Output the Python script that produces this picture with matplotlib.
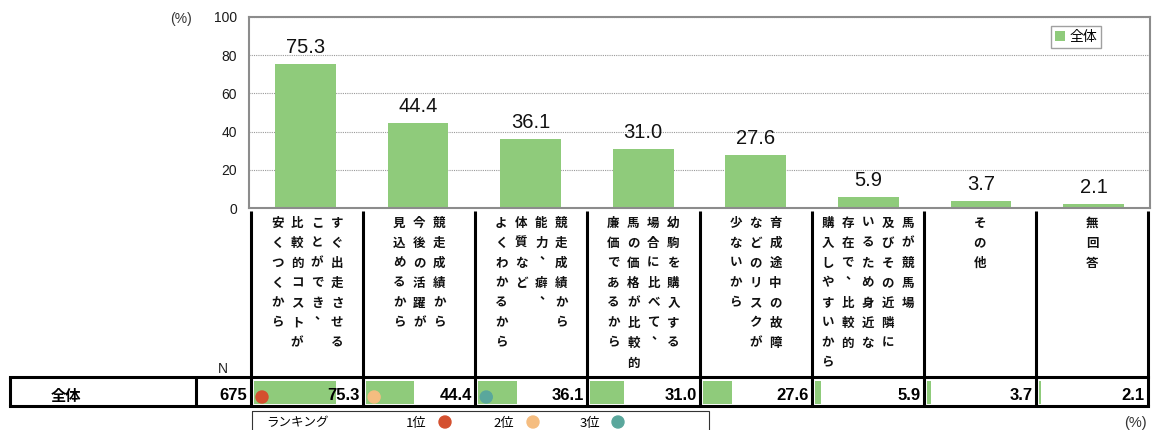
import matplotlib.pyplot as plt
import numpy as np
from matplotlib.patches import Circle, Rectangle

plt.rcParams['font.family'] = ['Liberation Sans', 'Noto Sans CJK JP', 'DejaVu Sans']

# reasons, one list per category; each string is one vertical column (read right to left)
label_columns = [
    ["すぐ出走させる", "ことができ、", "比較的コストが", "安くつくから"],
    ["競走成績から", "今後の活躍が", "見込めるから"],
    ["競走成績から", "能力、癖、", "体質など", "よくわかるから"],
    ["幼駒を購入する", "場合に比べて、", "馬の価格が比較的", "廉価であるから"],
    ["育成途中の故障", "などのリスクが", "少ないから"],
    ["馬が競馬場", "及びその近隣に", "いるため身近な", "存在で、比較的", "購入しやすいから"],
    ["その他"],
    ["無回答"],
]
values = [75.3, 44.4, 36.1, 31.0, 27.6, 5.9, 3.7, 2.1]
group_name = "全体"
n_total = 675
rank_labels = ["1位", "2位", "3位"]

GREEN = "#8fcb7b"
RANK_COLORS = ["#d4502f", "#f5bd80", "#5aa79c"]
JP = ['Noto Sans CJK JP', 'DejaVu Sans']

W, H = 1153, 430
fig = plt.figure(figsize=(W / 100, H / 100), dpi=100)

# main bar chart
ax = fig.add_axes([249 / W, 1 - 208 / H, (1150 - 249) / W, (208 - 17) / H])
x = np.arange(len(values))
ax.bar(x, values, width=0.54, color=GREEN, label=group_name, zorder=2)
ax.set_xlim(-0.5, len(values) - 0.5)
ax.set_ylim(0, 100)
ax.set_yticks(range(0, 101, 20))
ax.set_xticks([])
ax.tick_params(axis='y', length=0, pad=8.5, labelsize=10, labelcolor='#1a1a1a')
ax.yaxis.grid(True, linestyle=(0, (1, 1)), color='#9a9a9a', lw=0.8, zorder=0)
for sp in ax.spines.values():
    sp.set_color('#8c8c8c')
    sp.set_linewidth(1.5)

for xi, v in zip(x, values):
    ax.annotate(f'{v:.1f}', (xi, v), xytext=(0, 8), textcoords='offset points',
                ha='center', va='baseline', fontsize=14.5, color='#111111')

leg = ax.legend(loc='upper right',
                bbox_to_anchor=((1101 - 249) / 901, (208 - 26) / 191),
                prop={'family': JP, 'size': 10}, frameon=True, fancybox=False,
                edgecolor='#888888', handlelength=0.7, handleheight=0.7,
                handletextpad=0.3, borderpad=0.3, borderaxespad=0)
leg.get_frame().set_linewidth(1.0)

fig.text(181 / W, 1 - 19 / H, '(%)', ha='center', va='center', fontsize=10,
         color='#333333')

# overlay in pixel units for labels and the table below the chart
ov = fig.add_axes([0, 0, 1, 1])
ov.set_xlim(0, W)
ov.set_ylim(H, 0)
ov.axis('off')
ov.patch.set_alpha(0)

edges = np.linspace(251, 1148, len(values) + 1)
centers = (edges[:-1] + edges[1:]) / 2
LW = 2.2

# vertical category labels
for cx, cols in zip(centers, label_columns):
    n = len(cols)
    for j, col in enumerate(cols):
        colx = cx + (n - 1) / 2 * 20 - j * 20
        for k, ch in enumerate(col):
            y = 223 + k * 20
            dx, dy = (0, 0)
            if ch == '、':
                dx, dy = (4, -8)
            ov.text(colx + dx, y + dy, ch, ha='center', va='center',
                    family=JP, fontweight='bold', fontsize=9, color='#111111')

for e in edges:
    ov.plot([e, e], [211, 377], color='black', lw=LW, solid_capstyle='butt')

# table row
top, bot = 377, 406
ov.plot([10, 1148], [top, top], color='black', lw=LW, solid_capstyle='projecting')
ov.plot([10, 1148], [bot, bot], color='black', lw=LW, solid_capstyle='projecting')
for e in [10, 196] + list(edges):
    ov.plot([e, e], [top, bot], color='black', lw=LW, solid_capstyle='butt')

ov.text(223, 369, 'N', ha='center', va='center', fontsize=10, color='#222222')
ov.text(66, 396, group_name, ha='center', va='center', family=JP,
        fontweight='bold', fontsize=11)
ov.text(247, 400, f'{n_total}', ha='right', va='baseline', fontsize=12,
        fontweight='bold')

ov.barh([392.5] * len(values), [v * 1.085 for v in values], height=23,
        left=edges[:-1] + 3, color=GREEN, zorder=1)
for e, v in zip(edges[1:], values):
    ov.text(e - 3, 400, f'{v:.1f}', ha='right', va='baseline', fontsize=12,
            fontweight='bold', zorder=3)

order = np.argsort(values)[::-1]
for rank, idx in enumerate(order[:3]):
    ov.add_patch(Circle((edges[idx] + 11, 397), 6, color=RANK_COLORS[rank], zorder=2))

# ranking key
ov.add_patch(Rectangle((252, 411), 457, 30, fill=False, ec='#333333', lw=0.8))
ov.text(266, 423, 'ランキング', ha='left', va='center', family=JP, fontsize=9)
for lx, cx, lab, c in zip([406, 493, 580], [445, 533, 618], rank_labels, RANK_COLORS):
    ov.text(lx, 423, lab, ha='left', va='center', family=JP, fontsize=9.5)
    ov.add_patch(Circle((cx, 422), 6, color=c))

ov.text(1147, 423, '(%)', ha='right', va='center', fontsize=10.5, color='#333333')

fig.savefig('out.png', dpi=100)
